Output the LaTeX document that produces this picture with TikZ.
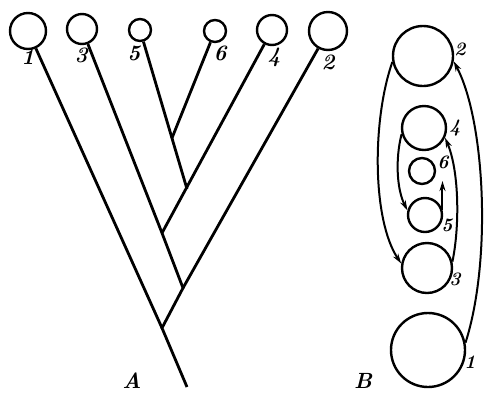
\documentclass[tikz,border=0pt]{standalone}
\usepackage{fontspec}
\usetikzlibrary{arrows.meta}
\begin{document}
\begin{tikzpicture}[x=1pt,y=1pt,
  blob/.style={circle,draw,line width=2.4pt,inner sep=0pt},
  branch/.style={line width=2.8pt},
  lab/.style={inner sep=0pt,font=\fontsize{22}{22}\selectfont\bfseries\itshape},
  rlab/.style={inner sep=0pt,font=\fontsize{19}{19}\selectfont\bfseries\itshape},
  flow/.style={line width=2pt,-{Stealth[length=10pt,width=6pt]}}]
\useasboundingbox (0,0) rectangle (485,-392);
% ---- A: tree
\node[blob,minimum size=36pt] (c1) at (28,-31) {};
\node[blob,minimum size=30pt] (c3) at (82,-29) {};
\node[blob,minimum size=22pt] (c5) at (140,-30) {};
\node[blob,minimum size=22pt] (c6) at (215,-31) {};
\node[blob,minimum size=30pt] (c4) at (272,-30) {};
\node[blob,minimum size=38pt] (c2) at (328,-31) {};
\coordinate (j56) at (172,-138);
\coordinate (j54) at (187,-189);
\coordinate (j3) at (162,-233);
\coordinate (j2) at (183,-288);
\coordinate (j1) at (162,-328);
\coordinate (root) at (187,-387);
\draw[branch] (c1) -- (j1);
\draw[branch] (c3) -- (j3) -- (j2) -- (j1) -- (root);
\draw[branch] (c5) -- (j54);
\draw[branch] (c6) -- (j56);
\draw[branch] (c4) -- (j3);
\draw[branch] (c2) -- (j2);
\node[lab] (l1) at (28,-57) {1};
\node[lab] (l3) at (81,-55) {3};
\node[lab] (l5) at (134,-53) {5};
\node[lab] (l6) at (220,-53) {6};
\node[lab] (l4) at (274,-57) {4};
\node[lab] (l2) at (328,-62) {2};
\node[lab] (A) at (132,-381) {A};
% ---- B: nested circles
\node[blob,minimum size=60pt] (r2) at (423,-56) {};
\node[blob,minimum size=44pt] (r4) at (424,-128) {};
\node[blob,minimum size=26pt] (r6) at (422,-171) {};
\node[blob,minimum size=34pt] (r5) at (425,-215) {};
\node[blob,minimum size=50pt] (r3) at (427,-268) {};
\node[blob,minimum size=74pt] (r1) at (428,-350) {};
\node[rlab] (m2) at (460,-49) {2};
\node[rlab] (m4) at (455,-128) {4};
\node[rlab] (m6) at (443,-162) {6};
\node[rlab] (m5) at (447,-225) {5};
\node[rlab] (m3) at (455,-279) {3};
\node[rlab] (m1) at (470,-362) {1};
\node[lab] (B) at (363,-381) {B};
\draw[flow] (r1.11) .. controls (492,-260) and (485,-120) .. (r2.-10);
\draw[flow] (r2.191) .. controls (372,-120) and (372,-220) .. (r3.170);
\draw[flow] (r3.14) .. controls (460,-225) and (459,-170) .. (r4.-25);
\draw[flow] (r4.195) .. controls (395,-160) and (397,-190) .. (r5.165);
\draw[flow] (r5.16) -- (r5.16 |- r6.-45);
\end{tikzpicture}
\end{document}
